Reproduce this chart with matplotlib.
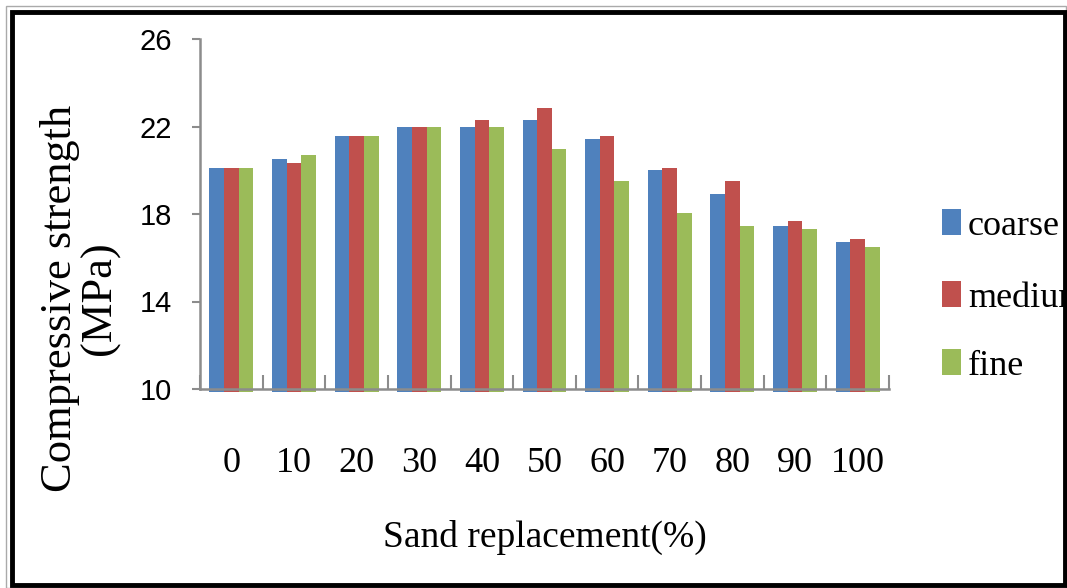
import numpy as np
import matplotlib
matplotlib.use("Agg")
import matplotlib.pyplot as plt
from matplotlib.patches import Rectangle
from matplotlib.ticker import FixedLocator

# ---- data ----
categories = ["0", "10", "20", "30", "40", "50", "60", "70", "80", "90", "100"]
series_names = ["coarse", "medium", "fine"]
coarse = [20.1, 20.5, 21.55, 22.0, 22.0, 22.3, 21.45, 20.0, 18.9, 17.45, 16.7]
medium = [20.1, 20.35, 21.55, 22.0, 22.3, 22.85, 21.55, 20.1, 19.5, 17.7, 16.85]
fine = [20.1, 20.7, 21.55, 22.0, 22.0, 20.95, 19.5, 18.05, 17.45, 17.3, 16.5]
y_ticks = [10, 14, 18, 22, 26]
colors = ["#4F81BD", "#C0504D", "#9BBB59"]

W, H = 1067, 588
fig = plt.figure(figsize=(W / 100, H / 100), dpi=100)
fig.patch.set_facecolor("white")

ax_left, ax_right, ax_top, ax_bottom = 200, 889, 39, 389
ax = fig.add_axes([ax_left / W, 1 - ax_bottom / H, (ax_right - ax_left) / W, (ax_bottom - ax_top) / H])

serif = ["Liberation Serif", "DejaVu Serif"]
sans = ["Liberation Sans", "DejaVu Sans"]

x = np.arange(len(categories))
bw = 0.234
base = 9.87
for i, (vals, col) in enumerate(zip([coarse, medium, fine], colors)):
    v = np.array(vals)
    ax.bar(x + (i - 1) * bw, v - base, bottom=base, width=bw, color=col,
           clip_on=False, zorder=1, linewidth=0)

ax.set_xlim(-0.5, len(categories) - 0.5)
ax.set_ylim(10, 26)

grey = "#8c8c8c"
for s in ["top", "right"]:
    ax.spines[s].set_visible(False)
for s in ["left", "bottom"]:
    ax.spines[s].set_color(grey)
    ax.spines[s].set_linewidth(1.8)
    ax.spines[s].set_zorder(3)

ax.set_yticks(y_ticks)
ax.set_yticklabels([str(t) for t in y_ticks], fontfamily=sans, fontsize=21)
ax.tick_params(axis="y", direction="out", length=6, width=1.5, color=grey, pad=14)

ax.set_xticks(x)
ax.set_xticklabels(categories, fontfamily=serif, fontsize=26)
ax.tick_params(axis="x", which="major", length=0, pad=42)
ax.xaxis.set_minor_locator(FixedLocator(np.arange(-0.5, len(categories), 1.0)))
ax.tick_params(axis="x", which="minor", direction="in", length=10, width=1.5, color=grey)

# axis labels
ax.set_xlabel("Sand replacement(%)", fontfamily=serif, fontsize=27)
ax.xaxis.set_label_coords(0.5, (ax_bottom - 537) / (ax_bottom - ax_top))
ax.xaxis.label.set_va("center")
ax.set_ylabel("Compressive strength\n(MPa)", fontfamily=serif, fontsize=32, linespacing=1.0,
              multialignment="center")
ax.yaxis.set_label_coords((80 - ax_left) / (ax_right - ax_left), (ax_bottom - 298) / (ax_bottom - ax_top))
ax.yaxis.label.set_va("center")

# legend
sq_bottoms = [235, 307, 375]
for name, col, yb in zip(series_names, colors, sq_bottoms):
    fig.add_artist(Rectangle((942 / W, 1 - yb / H), 19 / W, 26 / H, transform=fig.transFigure,
                             facecolor=col, edgecolor="none"))
    fig.text(968 / W, 1 - yb / H, name, ha="left", va="baseline", fontfamily=serif, fontsize=26)

# border
fig.add_artist(Rectangle((6 / W, 1 - 588 / H), 1060 / W, 582 / H, transform=fig.transFigure,
                         fill=False, edgecolor="#aaaaaa", linewidth=1, zorder=10))
fig.add_artist(Rectangle((12 / W, 1 - 585 / H), 1053 / W, 573 / H, transform=fig.transFigure,
                         fill=False, edgecolor="black", linewidth=3.5, zorder=11))

fig.savefig("out.png", dpi=100)
